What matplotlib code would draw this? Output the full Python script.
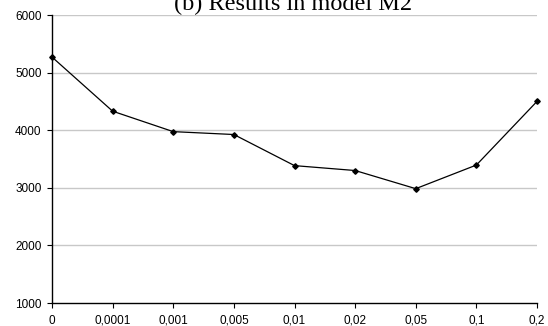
import matplotlib
matplotlib.use("Agg")
import matplotlib.pyplot as plt

labels = ["0", "0,0001", "0,001", "0,005", "0,01", "0,02", "0,05", "0,1", "0,2"]
values = [5270, 4330, 3975, 3925, 3385, 3300, 2985, 3395, 4500]
yticks = [1000, 2000, 3000, 4000, 5000, 6000]

fig = plt.figure(figsize=(5.48, 3.26), dpi=100)
ax = fig.add_axes([52/548, 1 - 303/326, (537-52)/548, (303-15)/326])

x = list(range(len(labels)))
ax.plot(x, values, color="black", lw=0.9, marker="D", ms=2.8,
        markerfacecolor="black", markeredgecolor="black", clip_on=False, zorder=3)

ax.set_xlim(0, len(labels) - 1)
ax.set_ylim(1000, 6000)
ax.set_xticks(x)
ax.set_xticklabels(labels)
ax.set_yticks(yticks)
ax.set_yticklabels([str(v) for v in yticks])

for v in yticks[1:]:
    ax.axhline(v, color="#c8c8c8", lw=1.0, zorder=1)

for s in ["top", "right"]:
    ax.spines[s].set_visible(False)
for s in ["left", "bottom"]:
    ax.spines[s].set_color("black")
    ax.spines[s].set_linewidth(1.0)

ax.tick_params(direction="out", length=3.5, width=0.8, colors="black",
               labelsize=8.5)
ax.tick_params(axis="y", pad=4)
ax.tick_params(axis="x", pad=5)
for lab in ax.get_xticklabels() + ax.get_yticklabels():
    lab.set_family("Liberation Sans")

fig.text(293/548, 1 - 10/326, "(b) Results in model M2", ha="center",
         va="baseline", fontsize=17.5, family="Liberation Serif")

fig.savefig("out.png", dpi=100)
